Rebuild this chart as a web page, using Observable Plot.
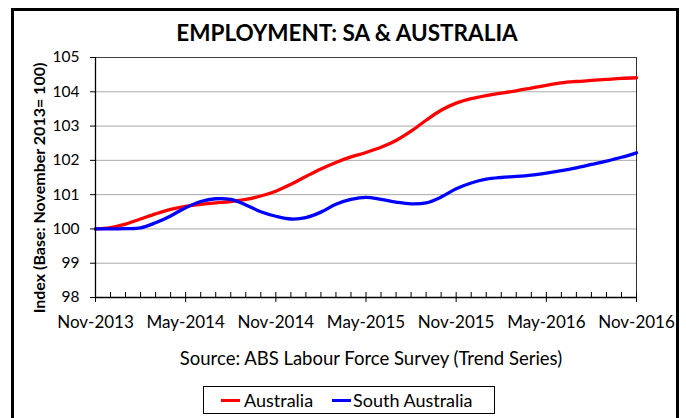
<!DOCTYPE html>
<html>
<head>
<meta charset="utf-8">
<script src="https://cdn.jsdelivr.net/npm/d3@7"></script>
<script src="https://cdn.jsdelivr.net/npm/@observablehq/plot@0.6"></script>
<style>
  html, body { margin: 0; padding: 0; background: #fff; }
  #wrap { position: relative; width: 686px; height: 418px; overflow: hidden; font-family: Lato, "Open Sans", sans-serif; color: #000; }
  #frame { position: absolute; left: 11px; top: 8px; width: 668px; height: 430px; border: 3px solid #000; box-sizing: border-box; }
  #title { position: absolute; left: 0; width: 694px; top: 18px; text-align: center; font-weight: bold; font-size: 22.5px; line-height: 30px; }
  #chart { position: absolute; left: 0; top: 0; }
  #ylab { position: absolute; left: 38px; top: 188px; transform: translate(-50%, -50%) rotate(-90deg); white-space: nowrap; font-weight: bold; font-size: 16px; }
  #source { position: absolute; left: 0; width: 742px; top: 346px; text-align: center; font-size: 18.5px; line-height: 24px; }
  #legend { position: absolute; left: 203px; top: 386px; width: 292px; height: 28px; border: 1px solid #000; box-sizing: border-box; }
  .sw { position: absolute; top: 12px; height: 3px; }
  .lt { position: absolute; top: 2px; font-size: 18px; line-height: 22px; white-space: nowrap; }
</style>
</head>
<body>
<div id="wrap">
  <div id="frame"></div>
  <div id="chart"></div>
  <div id="title">EMPLOYMENT: SA &amp; AUSTRALIA</div>
  <div id="ylab">Index (Base: November 2013= 100)</div>
  <div id="source">Source: ABS Labour Force Survey (Trend Series)</div>
  <div id="legend"></div>
</div>
<script>
const months = [
  "Nov-2013","Dec-2013","Jan-2014","Feb-2014","Mar-2014","Apr-2014","May-2014","Jun-2014","Jul-2014","Aug-2014","Sep-2014","Oct-2014",
  "Nov-2014","Dec-2014","Jan-2015","Feb-2015","Mar-2015","Apr-2015","May-2015","Jun-2015","Jul-2015","Aug-2015","Sep-2015","Oct-2015",
  "Nov-2015","Dec-2015","Jan-2016","Feb-2016","Mar-2016","Apr-2016","May-2016","Jun-2016","Jul-2016","Aug-2016","Sep-2016","Oct-2016",
  "Nov-2016"
];
const australia = [
  100.00, 100.04, 100.14, 100.29, 100.44, 100.57, 100.66, 100.72, 100.76, 100.80, 100.86, 100.96,
  101.10, 101.30, 101.53, 101.75, 101.94, 102.10, 102.23, 102.38, 102.58, 102.85, 103.17, 103.46,
  103.67, 103.80, 103.89, 103.96, 104.03, 104.11, 104.19, 104.26, 104.30, 104.33, 104.36, 104.39,
  104.41
];
const southAustralia = [
  100.00, 100.00, 100.01, 100.03, 100.18, 100.38, 100.62, 100.80, 100.88, 100.86, 100.70, 100.50,
  100.37, 100.29, 100.33, 100.49, 100.72, 100.86, 100.92, 100.86, 100.78, 100.73, 100.76, 100.93,
  101.17, 101.34, 101.45, 101.50, 101.53, 101.57, 101.63, 101.70, 101.78, 101.88, 101.98, 102.09,
  102.22
];
const seriesNames = ["Australia", "South Australia"];
const seriesColors = ["#ff0000", "#0000ff"];
const xTickLabels = ["Nov-2013","May-2014","Nov-2014","May-2015","Nov-2015","May-2016","Nov-2016"];
const yTicks = [98, 99, 100, 101, 102, 103, 104, 105];

const rows = [];
months.forEach((m, i) => rows.push({i, month: m, value: australia[i], series: seriesNames[0]}));
months.forEach((m, i) => rows.push({i, month: m, value: southAustralia[i], series: seriesNames[1]}));

const monthIdx = months.map((_, i) => i);
const majorIdx = xTickLabels.map(l => months.indexOf(l));
const yMin = yTicks[0], yMax = yTicks[yTicks.length - 1];

const chart = Plot.plot({
  width: 686,
  height: 345,
  marginTop: 57,
  marginBottom: 48,
  marginLeft: 95,
  marginRight: 50,
  style: {fontFamily: "Lato, 'Open Sans', sans-serif", color: "#000", background: "transparent", overflow: "visible"},
  x: {type: "linear", domain: [0, months.length - 1], axis: null},
  y: {domain: [yMin, yMax], axis: null},
  color: {domain: seriesNames, range: seriesColors},
  marks: [
    Plot.ruleY(yTicks.filter(v => v > yMin && v < yMax), {stroke: "#a9a9a9", strokeWidth: 1}),
    Plot.ruleY([yMax], {stroke: "#404040", strokeWidth: 1}),
    Plot.ruleX([months.length - 1], {stroke: "#303030", strokeWidth: 1}),
    Plot.line(rows, {x: "i", y: "value", z: "series", stroke: "series", curve: "catmull-rom", strokeWidth: 3.3}),
    Plot.ruleX([0], {stroke: "#000", strokeWidth: 1.3}),
    Plot.ruleY([yMin], {stroke: "#000", strokeWidth: 1.3}),
    Plot.axisX(monthIdx, {tickSize: -5, tickFormat: () => "", stroke: "#000", label: null}),
    Plot.axisX(majorIdx, {tickSize: 5, tickPadding: 13, tickFormat: i => months[i], fontSize: 17, stroke: "#000", label: null}),
    Plot.axisY(yTicks, {tickSize: 5, tickPadding: 11, fontSize: 15.5, stroke: "#000", label: null})
  ]
});
document.getElementById("chart").appendChild(chart);

// legend (HTML)
const legend = document.getElementById("legend");
const legendLayout = [{sw: 17, tx: 40}, {sw: 128, tx: 149}];
seriesNames.forEach((name, k) => {
  const sw = document.createElement("div");
  sw.className = "sw";
  sw.style.left = legendLayout[k].sw + "px";
  sw.style.width = "19px";
  sw.style.background = seriesColors[k];
  legend.appendChild(sw);
  const t = document.createElement("div");
  t.className = "lt";
  t.style.left = legendLayout[k].tx + "px";
  t.textContent = name;
  legend.appendChild(t);
});
</script>
</body>
</html>
